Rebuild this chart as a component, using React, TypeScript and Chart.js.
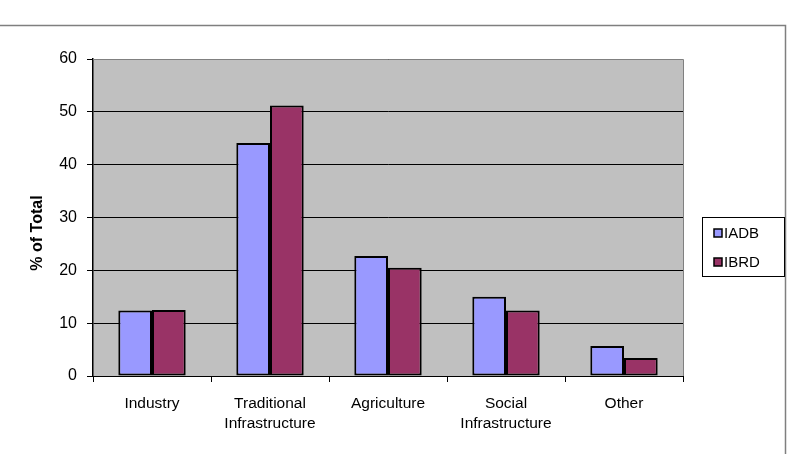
import React, { useEffect, useRef } from "react";
import { Chart, registerables } from "chart.js";

Chart.register(...registerables);

const categories: (string | string[])[] = [
  "Industry",
  ["Traditional", "Infrastructure"],
  "Agriculture",
  ["Social", "Infrastructure"],
  "Other",
];
const iadbValues = [12.4, 44.1, 22.7, 15.0, 5.7];
const ibrdValues = [12.5, 51.2, 20.5, 12.4, 3.4];
const seriesNames = ["IADB", "IBRD"];
const yTicks = [0, 10, 20, 30, 40, 50, 60];
const yTitle = "% of Total";

const FONT = "'Liberation Sans', Arial, sans-serif";

const framePlugin = {
  id: "frame",
  beforeDraw(chart: any) {
    const { ctx, chartArea } = chart;
    ctx.save();
    ctx.fillStyle = "#ffffff";
    ctx.fillRect(0, 0, chart.width, chart.height);
    // outer frame
    ctx.strokeStyle = "#7f7f7f";
    ctx.lineWidth = 1.5;
    ctx.strokeRect(-2, 25.5, 787.5, 460);
    // plot area
    ctx.fillStyle = "#c0c0c0";
    ctx.fillRect(chartArea.left, chartArea.top, chartArea.right - chartArea.left, chartArea.bottom - chartArea.top);
    ctx.restore();
  },
  afterDraw(chart: any) {
    const { ctx, chartArea } = chart;
    ctx.save();
    // plot top and right border
    ctx.strokeStyle = "#808080";
    ctx.lineWidth = 1;
    ctx.beginPath();
    ctx.moveTo(chartArea.left, chartArea.top + 0.5);
    ctx.lineTo(chartArea.right + 0.5, chartArea.top + 0.5);
    ctx.lineTo(chartArea.right + 0.5, chartArea.bottom);
    ctx.stroke();
    // y title
    ctx.fillStyle = "#000";
    ctx.font = `bold 16px ${FONT}`;
    ctx.textAlign = "center";
    ctx.textBaseline = "middle";
    ctx.translate(38, 233);
    ctx.rotate(-Math.PI / 2);
    ctx.fillText(yTitle, 0, 0);
    ctx.restore();

    // legend
    ctx.save();
    const lx = 702, ly = 217, lw = 82, lh = 59;
    ctx.fillStyle = "#fff";
    ctx.fillRect(lx, ly, lw, lh);
    ctx.strokeStyle = "#000";
    ctx.lineWidth = 1;
    ctx.strokeRect(lx + 0.5, ly + 0.5, lw, lh);
    ctx.font = `15px ${FONT}`;
    ctx.textBaseline = "middle";
    ctx.textAlign = "left";
    chart.data.datasets.forEach((ds: any, i: number) => {
      const cy = 233 + i * 29;
      ctx.fillStyle = ds.backgroundColor;
      ctx.fillRect(714, cy - 4, 8, 8);
      ctx.strokeStyle = "#000";
      ctx.lineWidth = 1.5;
      ctx.strokeRect(714, cy - 4, 8, 8);
      ctx.fillStyle = "#000";
      ctx.fillText(ds.label, 724, cy + 1);
    });
    ctx.restore();
  },
};

export default function App() {
  const ref = useRef<HTMLCanvasElement>(null);
  useEffect(() => {
    if (!ref.current) return;
    const chart = new Chart(ref.current, {
      type: "bar",
      data: {
        labels: categories,
        datasets: [
          {
            label: seriesNames[0],
            data: iadbValues,
            backgroundColor: "#9999ff",
            borderColor: "#000000",
            borderWidth: 2,
            borderSkipped: false,
            categoryPercentage: 0.571,
            barPercentage: 1,
          },
          {
            label: seriesNames[1],
            data: ibrdValues,
            backgroundColor: "#993366",
            borderColor: "#000000",
            borderWidth: 2,
            borderSkipped: false,
            categoryPercentage: 0.571,
            barPercentage: 1,
          },
        ],
      },
      options: {
        responsive: false,
        animation: false,
        layout: { padding: { left: 0, top: 59, right: 105, bottom: 0 } },
        plugins: {
          legend: { display: false },
          tooltip: { enabled: false },
          title: { display: false },
        },
        scales: {
          x: {
            offset: true,
            grid: {
              offset: true,
              drawOnChartArea: false,
              drawTicks: true,
              tickLength: 6,
              color: "#000",
            },
            border: { color: "#000", width: 1 },
            ticks: {
              color: "#000",
              font: { family: FONT, size: 15.5, lineHeight: 1.27 },
              padding: 12,
              maxRotation: 0,
            },
            afterFit: (s: any) => {
              s.height = 78;
            },
          },
          y: {
            min: 0,
            max: 60,
            afterBuildTicks: (s: any) => {
              s.ticks = yTicks.map((v) => ({ value: v }));
            },
            grid: {
              color: "#000",
              lineWidth: 1,
              drawTicks: true,
              tickLength: 6,
            },
            border: { color: "#000", width: 1.5 },
            ticks: {
              color: "#000",
              font: { family: FONT, size: 16 },
              padding: 10,
            },
            afterFit: (s: any) => {
              s.width = 93;
            },
          },
        },
      },
      plugins: [framePlugin],
    });
    return () => chart.destroy();
  }, []);
  return (
    <div style={{ position: "absolute", left: 0, top: 0, width: 788, height: 454 }}>
      <canvas ref={ref} width={788} height={454} style={{ display: "block" }} />
    </div>
  );
}
